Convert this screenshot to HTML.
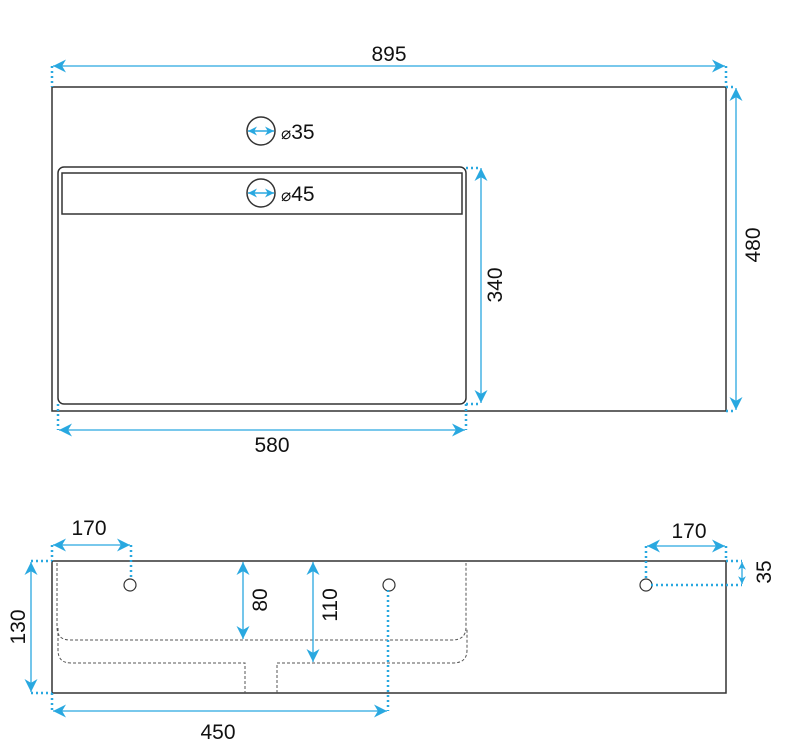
<!DOCTYPE html><html><head><style>body{margin:0;background:#fff}svg{display:block}text{font-family:"Liberation Sans",sans-serif;fill:#111}</style></head><body>
<svg width="785" height="749" viewBox="0 0 785 749" xmlns="http://www.w3.org/2000/svg">
<defs><marker id="a" viewBox="0 0 10 10" refX="10" refY="5" markerWidth="10" markerHeight="10" orient="auto-start-reverse"><path d="M0,0 L10,5 L0,10 L3,5z" fill="#29a8e0"/></marker>
<marker id="b" viewBox="0 0 10 10" refX="10" refY="5" markerWidth="6" markerHeight="8" orient="auto-start-reverse"><path d="M0,0 L10,5 L0,10 L3,5z" fill="#29a8e0"/></marker></defs>
<g fill="none" stroke="#333" stroke-width="1.5">
<rect x="52" y="87" width="674" height="324"/>
<rect x="58" y="167" width="408" height="237" rx="6"/>
<rect x="62" y="173" width="400" height="41"/>
<circle cx="261" cy="131" r="14"/><circle cx="261" cy="193" r="14"/>
<path d="M52,561V693H726V561H52"/>
<circle cx="130" cy="585" r="6" stroke-width="1.2"/><circle cx="389" cy="585" r="6" stroke-width="1.2"/><circle cx="646" cy="585" r="6" stroke-width="1.2"/>
</g>
<g fill="none" stroke="#555" stroke-width="1" stroke-dasharray="3,2">
<path d="M57,563V627Q57,640 70,640H452Q466,640 466,627V563"/>
<path d="M58,628V650Q58,663 71,663H245V693M277,693V663H453Q467,663 467,650V628"/>
</g>
<g stroke="#29a8e0" stroke-width="1.3" fill="none">
<line x1="248" y1="131" x2="274" y2="131" stroke-width="1.5" marker-start="url(#b)" marker-end="url(#b)"/>
<line x1="248" y1="193" x2="274" y2="193" stroke-width="1.5" marker-start="url(#b)" marker-end="url(#b)"/>
<line x1="53" y1="66" x2="725" y2="66" marker-start="url(#a)" marker-end="url(#a)"/>
<line x1="736" y1="88" x2="736" y2="410" marker-start="url(#a)" marker-end="url(#a)"/>
<line x1="481" y1="168" x2="481" y2="403" marker-start="url(#a)" marker-end="url(#a)"/>
<line x1="59" y1="430" x2="465" y2="430" marker-start="url(#a)" marker-end="url(#a)"/>
<line x1="53" y1="545" x2="130" y2="545" marker-start="url(#a)" marker-end="url(#a)"/>
<line x1="31" y1="562" x2="31" y2="692" marker-start="url(#a)" marker-end="url(#a)"/>
<line x1="243" y1="562" x2="243" y2="639" marker-start="url(#a)" marker-end="url(#a)"/>
<line x1="313" y1="562" x2="313" y2="662" marker-start="url(#a)" marker-end="url(#a)"/>
<line x1="53" y1="711" x2="387" y2="711" marker-start="url(#a)" marker-end="url(#a)"/>
<line x1="647" y1="546" x2="725" y2="546" marker-start="url(#a)" marker-end="url(#a)"/>
<line x1="742" y1="562" x2="742" y2="584" marker-start="url(#b)" marker-end="url(#b)"/>
</g>
<g stroke="#29a8e0" stroke-width="2.5" fill="none" stroke-dasharray="2,3">
<path d="M52,66V87M726,66V87M726,87H736M726,411H736M466,168H481M466,404H481M58,404V430M466,404V430"/>
<path d="M52,545V561M131,545V580M31,561H52M31,693H52M52,693V711M388,590V711M646,546V580M726,546V561M726,561H742M651,585H742"/>
</g>
<g font-size="21">
<text x="389" y="61" text-anchor="middle">895</text>
<text x="272" y="452" text-anchor="middle">580</text>
<text x="281" y="139"><tspan font-size="17">⌀</tspan>35</text>
<text x="281" y="201"><tspan font-size="17">⌀</tspan>45</text>
<text x="89" y="535" text-anchor="middle">170</text>
<text x="689" y="538" text-anchor="middle">170</text>
<text x="218" y="739" text-anchor="middle">450</text>
<text transform="translate(760,245) rotate(-90)" text-anchor="middle">480</text>
<text transform="translate(502,285) rotate(-90)" text-anchor="middle">340</text>
<text transform="translate(25,627) rotate(-90)" text-anchor="middle">130</text>
<text transform="translate(267,600) rotate(-90)" text-anchor="middle">80</text>
<text transform="translate(337,605) rotate(-90)" text-anchor="middle">110</text>
<text transform="translate(771,572) rotate(-90)" text-anchor="middle">35</text>
</g>
</svg></body></html>
